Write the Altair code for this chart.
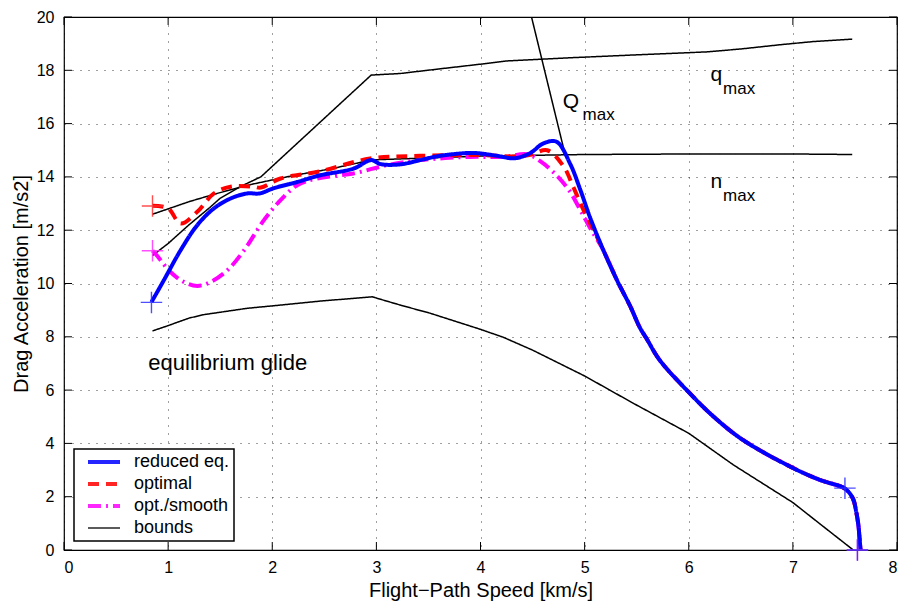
import altair as alt
import pandas as pd

# ---------------- data ----------------
series_order = ["reduced eq.", "optimal", "opt./smooth", "bounds"]

blue_x = [0.84, 0.96, 1.12, 1.28, 1.44, 1.60, 1.76, 1.88, 2.01, 2.24, 2.46, 2.78, 2.95, 3.04,
          3.23, 3.42, 3.61, 3.90, 4.00, 4.16, 4.33, 4.48, 4.60, 4.73, 4.86, 4.96, 5.05, 5.18,
          5.31, 5.44, 5.53, 5.60, 5.72, 6.00, 6.24, 6.52, 6.99, 7.26, 7.48, 7.53, 7.58, 7.61,
          7.63, 7.64, 7.65]
blue_y = [9.30, 10.13, 11.25, 12.19, 12.82, 13.19, 13.38, 13.38, 13.57, 13.81, 14.06, 14.31, 14.63, 14.48,
          14.47, 14.63, 14.79, 14.90, 14.88, 14.79, 14.70, 14.90, 15.25, 15.32, 14.50, 13.50, 12.50, 11.25,
          10.13, 9.13, 8.35, 7.90, 7.13, 5.92, 5.00, 4.13, 3.10, 2.63, 2.35, 2.20, 1.90, 1.40,
          0.90, 0.45, 0.0]

red_x = [0.85, 1.00, 1.12, 1.28, 1.44, 1.60, 1.82, 1.89, 2.08, 2.46, 2.94, 3.42, 4.00, 4.32,
         4.48, 4.64, 4.80, 4.89, 4.99, 5.08, 5.18, 5.31, 5.44, 5.53, 5.60, 5.72, 6.00, 6.24,
         6.52, 6.99, 7.26, 7.48, 7.53, 7.58, 7.61, 7.63, 7.64, 7.65]
red_y = [12.92, 12.82, 12.25, 12.69, 13.38, 13.63, 13.63, 13.60, 13.94, 14.21, 14.69, 14.79, 14.82, 14.77,
         14.83, 15.00, 14.38, 13.63, 12.75, 12.05, 11.25, 10.13, 9.13, 8.35, 7.90, 7.13, 5.92, 5.00,
         4.13, 3.10, 2.63, 2.35, 2.20, 1.90, 1.40, 0.90, 0.45, 0.0]

mag_x = [0.85, 0.89, 1.02, 1.15, 1.28, 1.41, 1.57, 1.73, 1.92, 2.08, 2.24, 2.43, 2.78, 3.10,
         3.42, 3.90, 4.22, 4.45, 4.57, 4.72, 4.85, 4.96, 5.05, 5.18, 5.31, 5.44, 5.53, 5.60,
         5.72, 6.00, 6.24, 6.52, 6.99, 7.26, 7.48, 7.53, 7.58, 7.61, 7.63, 7.64, 7.65]
mag_y = [11.23, 11.06, 10.44, 10.06, 9.91, 10.06, 10.50, 11.25, 12.38, 13.13, 13.69, 13.94, 14.13, 14.44,
         14.63, 14.75, 14.75, 14.85, 14.60, 14.10, 13.50, 12.75, 12.10, 11.25, 10.13, 9.13, 8.35, 7.90,
         7.13, 5.92, 5.00, 4.13, 3.10, 2.63, 2.35, 2.20, 1.90, 1.40, 0.90, 0.45, 0.0]

glide_x = [0.85, 1.00, 1.20, 1.34, 1.76, 2.00, 2.46, 2.96, 3.23, 3.52, 4.00, 4.22, 4.50, 5.00,
           5.47, 6.00, 6.43, 7.00, 7.26, 7.58]
glide_y = [8.22, 8.42, 8.70, 8.83, 9.07, 9.16, 9.34, 9.50, 9.19, 8.88, 8.28, 7.98, 7.50, 6.53,
           5.50, 4.38, 3.19, 1.78, 0.98, 0.0]

qmax_x = [0.85, 1.00, 1.20, 1.40, 1.50, 1.70, 1.89, 2.95, 3.23, 3.60, 4.00, 4.25, 4.86, 5.50,
          6.17, 6.50, 6.88, 7.20, 7.57]
qmax_y = [11.05, 11.50, 12.20, 12.85, 13.20, 13.65, 14.00, 17.82, 17.88, 18.05, 18.23, 18.35, 18.47, 18.58,
          18.69, 18.80, 18.96, 19.08, 19.17]

nmax_x = [0.85, 1.00, 1.20, 1.47, 1.80, 2.20, 2.56, 2.96, 3.42, 4.00, 5.00, 6.00, 7.00, 7.57]
nmax_y = [12.60, 12.80, 13.07, 13.38, 13.72, 14.05, 14.30, 14.64, 14.70, 14.78, 14.84, 14.86, 14.86, 14.84]

Qmax_x = [4.49, 4.81]
Qmax_y = [20.0, 14.88]

# start / end markers
mark_x = [0.85, 0.85, 7.62, 0.84, 7.50, 7.62]
mark_y = [12.91, 11.23, 0.0, 9.29, 2.32, 0.0]
mark_col = ["#ff3030", "#ff30ff", "#ff30ff", "#3030ff", "#3030ff", "#3030ff"]

# annotations
ann_text = ["equilibrium glide", "Q", "max", "q", "max", "n", "max"]
ann_x = [0.81, 4.79, 4.98, 6.21, 6.33, 6.21, 6.33]
ann_y = [6.75, 16.60, 16.12, 17.60, 17.10, 13.60, 13.10]
ann_fs = [22, 21, 17, 21, 17, 21, 17]

x_ticks = [0, 1, 2, 3, 4, 5, 6, 7, 8]
y_ticks = [0, 2, 4, 6, 8, 10, 12, 14, 16, 18, 20]

# ---------------- tables ----------------
def frame(series, seg, xs, ys):
    return pd.DataFrame({"series": series, "seg": seg, "x": xs, "y": ys,
                         "i": list(range(len(xs)))})

lines = pd.concat([
    frame("bounds", "glide", glide_x, glide_y),
    frame("bounds", "qmax", qmax_x, qmax_y),
    frame("bounds", "nmax", nmax_x, nmax_y),
    frame("bounds", "Qmax", Qmax_x, Qmax_y),
    frame("opt./smooth", "mag", mag_x, mag_y),
    frame("optimal", "red", red_x, red_y),
    frame("reduced eq.", "blue", blue_x, blue_y),
], ignore_index=True)

marks = pd.DataFrame({"x": mark_x, "y": mark_y, "col": mark_col})
ann = pd.DataFrame({"x": ann_x, "y": ann_y, "t": ann_text, "fs": ann_fs})
xt = pd.DataFrame({"v": x_ticks})
yt = pd.DataFrame({"v": y_ticks})

W, H = 833, 533
FONT = "Liberation Sans"

xs = alt.Scale(domain=[0, 8], nice=False, zero=False)
ys = alt.Scale(domain=[0, 20], nice=False, zero=False)

x_axis = alt.Axis(values=x_ticks, format="d", title="Flight\u2212Path Speed [km/s]", grid=True,
                  ticks=False, domain=False, labelFontSize=16, labelPadding=9, titleFontSize=20,
                  titlePadding=5, titleFontWeight="normal", labelFont=FONT, titleFont=FONT,
                  labelColor="black", titleColor="black", gridColor="black",
                  gridDash=[1, 7], gridWidth=1, gridOpacity=0.75)
y_axis = alt.Axis(values=y_ticks, format="d", title="Drag Acceleration [m/s2]", grid=True,
                  ticks=False, domain=False, labelFontSize=16, labelPadding=10, titleFontSize=20,
                  titlePadding=5, titleFontWeight="normal", labelFont=FONT, titleFont=FONT,
                  labelColor="black", titleColor="black", gridColor="black",
                  gridDash=[1, 7], gridWidth=1, gridOpacity=0.75)

color = alt.Color("series:N", scale=alt.Scale(domain=series_order,
                  range=["#0000ff", "#ff0000", "#ff00ff", "#000000"]),
                  legend=alt.Legend(title=None))
dash = alt.StrokeDash("series:N", scale=alt.Scale(domain=series_order,
                      range=[[1, 0], [11, 7], [13, 5, 2, 5], [1, 0]]),
                      legend=alt.Legend(title=None))
sw = alt.StrokeWidth("series:N", scale=alt.Scale(type="ordinal", domain=series_order,
                     range=[4, 4, 4, 1.5]), legend=alt.Legend(title=None))


def layer_for(seg, interp):
    return alt.Chart(lines).transform_filter(alt.datum.seg == seg).mark_line(
        clip=True, strokeCap="butt", strokeJoin="round", interpolate=interp).encode(
        x=alt.X("x:Q", scale=xs, axis=x_axis),
        y=alt.Y("y:Q", scale=ys, axis=y_axis),
        color=color, strokeDash=dash, strokeWidth=sw,
        detail="seg:N", order="i:Q",
    )


layers = [
    layer_for("glide", "linear"),
    layer_for("qmax", "linear"),
    layer_for("nmax", "linear"),
    layer_for("Qmax", "linear"),
    layer_for("mag", "catmull-rom"),
    layer_for("red", "catmull-rom"),
    layer_for("blue", "catmull-rom"),
]

plus = "M-1,0L1,0M0,-1L0,1"
markers = alt.Chart(marks).mark_point(shape=plus, filled=False, size=460, strokeWidth=1.4,
                                      opacity=0.85).encode(
    x=alt.X("x:Q", scale=xs), y=alt.Y("y:Q", scale=ys),
    color=alt.Color("col:N", scale=None))

texts = alt.Chart(ann).mark_text(align="left", baseline="alphabetic", font=FONT,
                                 color="black").encode(
    x=alt.X("x:Q", scale=xs), y=alt.Y("y:Q", scale=ys), text="t:N",
    size=alt.Size("fs:Q", scale=None))

tick_len = 8
bt = alt.Chart(xt).mark_rule(color="black", strokeWidth=1).encode(
    x=alt.X("v:Q", scale=xs), y=alt.value(H), y2=alt.value(H - tick_len))
tt = alt.Chart(xt).mark_rule(color="black", strokeWidth=1).encode(
    x=alt.X("v:Q", scale=xs), y=alt.value(0), y2=alt.value(tick_len))
lt = alt.Chart(yt).mark_rule(color="black", strokeWidth=1).encode(
    y=alt.Y("v:Q", scale=ys), x=alt.value(0), x2=alt.value(tick_len))
rt = alt.Chart(yt).mark_rule(color="black", strokeWidth=1).encode(
    y=alt.Y("v:Q", scale=ys), x=alt.value(W), x2=alt.value(W - tick_len))

chart = alt.layer(bt, tt, lt, rt, *layers, markers, texts).properties(
    width=W, height=H,
    padding={"left": 64, "top": 17, "right": 10, "bottom": 54},
    autosize=alt.AutoSizeParams(type="none"),
    background="white",
).configure_view(stroke="black", strokeWidth=1.2).configure_legend(
    orient="none", legendX=10, legendY=432, symbolType="stroke", symbolSize=1024,
    labelFontSize=18, labelFont=FONT, labelColor="black", strokeColor="black",
    fillColor="white", padding=4, rowPadding=4, clipHeight=18, labelOffset=12,
    symbolOffset=8, cornerRadius=0, strokeWidth=1.5,
)

chart.save("out.html", embed_options={"renderer": "svg", "actions": False})
